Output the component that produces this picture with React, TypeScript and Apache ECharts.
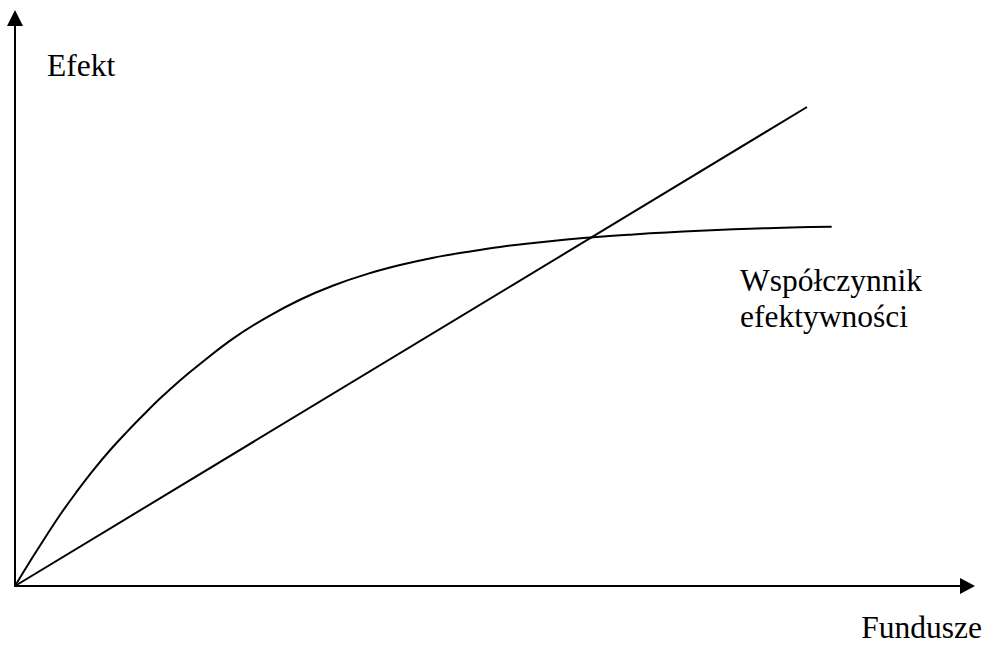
import React, { useEffect, useRef } from "react";
import * as echarts from "echarts";

// Funds (x) and effect (y) in arbitrary units
const curveX = [0, 1.23, 2.97, 4.72, 6.48, 8.22, 9.97, 11.73, 13.47, 15.22, 17.32, 19.42, 22.92, 26.43, 29.92, 33.42, 36.92, 40.42, 43.92, 47.42, 50.92, 54.42, 57.92, 61.42, 64.92, 68.42, 71.92, 75.42, 78.92, 82.41, 85.74];
const curveY = [0, 3.4, 8.0, 12.5, 16.6, 20.4, 23.9, 27.1, 30.1, 33.0, 36.2, 39.1, 43.6, 47.3, 50.4, 52.9, 54.9, 56.5, 57.8, 58.8, 59.7, 60.4, 61.0, 61.5, 61.9, 62.25, 62.55, 62.8, 63.0, 63.15, 63.25];
const lineX = [0, 83.15];
const lineY = [0, 84.33];

const xAxisMax = 100;
const yAxisMax = 100;

const yAxisName = "Efekt";
const xAxisName = "Fundusze";
const curveLabel = "Współczynnik\nefektywności";

const FONT = "Liberation Serif, Times New Roman, serif";

export default function App() {
  const ref = useRef<HTMLDivElement>(null);
  useEffect(() => {
    if (!ref.current) return;
    const chart = echarts.init(ref.current, undefined, { renderer: "svg" });
    const axisCommon = {
      type: "value" as const,
      min: 0,
      axisLine: {
        show: true,
        symbol: ["none", "triangle"],
        lineStyle: { color: "#000", width: 2 },
      },
      axisTick: { show: false },
      axisLabel: { show: false },
      splitLine: { show: false },
    };
    const textStyle = { fontFamily: FONT, fontSize: 31.5, fill: "#000" };
    chart.setOption({
      animation: false,
      backgroundColor: "#fff",
      grid: { left: 15, right: 19.5, top: 18, bottom: 59, containLabel: false },
      xAxis: { ...axisCommon, max: xAxisMax, axisLine: { ...axisCommon.axisLine, symbolSize: [16, 15] } },
      yAxis: { ...axisCommon, max: yAxisMax, axisLine: { ...axisCommon.axisLine, symbolSize: [16, 16] } },
      series: [
        {
          type: "line",
          data: curveX.map((x, i) => [x, curveY[i]]),
          showSymbol: false,
          smooth: 0.4,
          lineStyle: { color: "#000", width: 2 },
          silent: true,
        },
        {
          type: "line",
          data: lineX.map((x, i) => [x, lineY[i]]),
          showSymbol: false,
          lineStyle: { color: "#000", width: 2 },
          silent: true,
        },
      ],
      graphic: [
        {
          type: "text",
          left: 47,
          top: 49,
          style: { ...textStyle, text: yAxisName },
        },
        {
          type: "text",
          left: 740,
          top: 262,
          style: { ...textStyle, text: curveLabel, lineHeight: 36.5 },
        },
        {
          type: "text",
          right: 5,
          top: 611,
          style: { ...textStyle, text: xAxisName, lineHeight: 26 },
        },
      ],
    });
    return () => chart.dispose();
  }, []);
  return (
    <div
      ref={ref}
      style={{ position: "absolute", left: 0, top: 0, width: 987, height: 645 }}
    />
  );
}
